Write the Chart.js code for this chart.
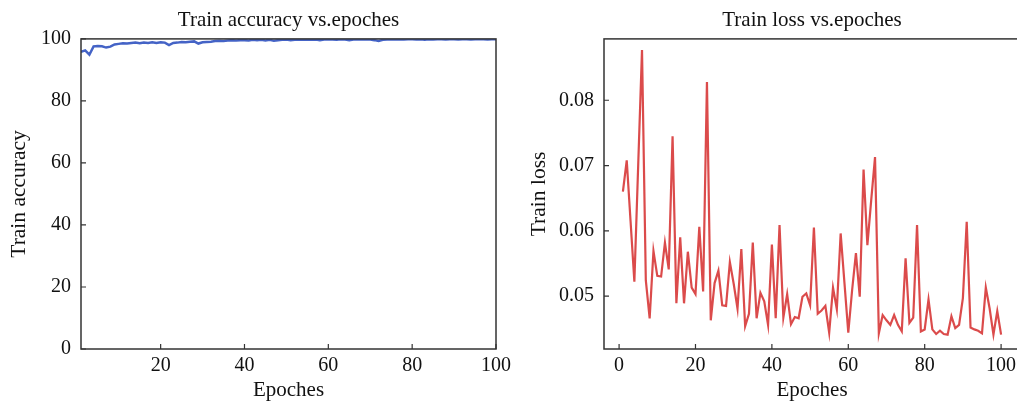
<!DOCTYPE html>
<html>
  <head>
    <meta charset="UTF-8" />
    <script src="https://cdn.jsdelivr.net/npm/chart.js"></script>
    <style>
      html, body { margin: 0; padding: 0; background: #fff; overflow: hidden; }
      body { width: 1017px; height: 401px; position: relative; }
      canvas { position: absolute; top: 0; }
      #accChart { left: 0; }
      #lossChart { left: 520px; }
    </style>
  </head>
  <body>
    <canvas id="accChart" width="520" height="420"></canvas>
    <canvas id="lossChart" width="540" height="420"></canvas>
    <script>
      // 데이터
      const epochs = Array.from({ length: 100 }, (_, i) => i + 1);

      const trainAccuracy = [
        95.8, 96.3, 94.9, 97.6, 97.7, 97.6, 97.2, 97.5, 98.2, 98.4,
        98.6, 98.5, 98.7, 98.8, 98.6, 98.8, 98.7, 98.9, 98.7, 98.9,
        98.8, 98.0, 98.7, 98.8, 99.0, 98.9, 99.1, 99.2, 98.5, 98.9,
        99.0, 99.1, 99.3, 99.4, 99.3, 99.5, 99.6, 99.5, 99.6, 99.6,
        99.5, 99.7, 99.6, 99.7, 99.5, 99.7, 99.4, 99.6, 99.7, 99.8,
        99.6, 99.7, 99.8, 99.7, 99.8, 99.7, 99.8, 99.6, 99.8, 99.9,
        99.8, 99.7, 99.9, 99.8, 99.6, 99.8, 99.9, 99.8, 99.9, 99.8,
        99.6, 99.3, 99.7, 99.8, 99.9, 99.8, 99.9, 99.8, 99.9, 99.9,
        99.8, 99.9, 99.7, 99.9, 99.8, 99.9, 99.9, 99.8, 99.9, 99.9,
        99.8, 99.9, 99.9, 99.8, 99.9, 99.9, 99.9, 99.8, 99.9, 99.9
      ];

      const trainLoss = [
        0.0660, 0.0708, 0.0615, 0.0522, 0.0700, 0.0877, 0.0524, 0.0466, 0.0569, 0.0531,
        0.0530, 0.0582, 0.0541, 0.0745, 0.0489, 0.0590, 0.0489, 0.0568, 0.0513, 0.0503,
        0.0606, 0.0507, 0.0828, 0.0463, 0.0520, 0.0539, 0.0486, 0.0485, 0.0552, 0.0519,
        0.0481, 0.0572, 0.0454, 0.0473, 0.0582, 0.0466, 0.0505, 0.0492, 0.0456, 0.0579,
        0.0466, 0.0609, 0.0467, 0.0503, 0.0457, 0.0468, 0.0466, 0.0499, 0.0504, 0.0486,
        0.0605, 0.0473, 0.0478, 0.0485, 0.0444, 0.0513, 0.0480, 0.0596, 0.0520, 0.0444,
        0.0509, 0.0566, 0.0499, 0.0694, 0.0578, 0.0647, 0.0713, 0.0443, 0.0471, 0.0463,
        0.0456, 0.0471, 0.0456, 0.0446, 0.0558, 0.0459, 0.0467, 0.0609, 0.0446, 0.0449,
        0.0495, 0.0449, 0.0442, 0.0447, 0.0442, 0.0441, 0.0469, 0.0451, 0.0456, 0.0497,
        0.0614, 0.0452, 0.0449, 0.0447, 0.0443, 0.0513, 0.0481, 0.0441, 0.0477, 0.0441
      ];

      // 눈금 값
      const accXTicks = [20, 40, 60, 80, 100];
      const accYTicks = [0, 20, 40, 60, 80, 100];
      const lossXTicks = [0, 20, 40, 60, 80, 100];
      const lossYTicks = [0.05, 0.06, 0.07, 0.08];

      const FONT = "'Liberation Serif', 'Times New Roman', serif";
      Chart.defaults.font.family = FONT;
      Chart.defaults.color = "#111";

      // 테두리 + 안쪽 눈금
      const frameAndTicks = {
        id: "frameAndTicks",
        afterDraw(chart) {
          const { ctx, chartArea: a, scales } = chart;
          ctx.save();
          ctx.strokeStyle = "#333";
          ctx.lineWidth = 1.5;
          ctx.strokeRect(a.left, a.top, a.right - a.left, a.bottom - a.top);
          ctx.lineWidth = 1.2;
          ctx.beginPath();
          scales.x.ticks.forEach((t) => {
            const px = scales.x.getPixelForValue(t.value);
            ctx.moveTo(px, a.bottom);
            ctx.lineTo(px, a.bottom - 5);
          });
          scales.y.ticks.forEach((t) => {
            const py = scales.y.getPixelForValue(t.value);
            ctx.moveTo(a.left, py);
            ctx.lineTo(a.left + 5, py);
          });
          ctx.stroke();
          ctx.restore();
        },
      };

      function setTicks(values) {
        return (scale) => {
          scale.ticks = values.map((v) => ({ value: v }));
        };
      }

      function makeChart(id, o) {
        new Chart(document.getElementById(id), {
          type: "line",
          data: {
            datasets: [
              {
                data: epochs.map((e, i) => ({ x: e, y: o.values[i] })),
                borderColor: o.color,
                borderWidth: o.lineWidth,
                pointRadius: 0,
                tension: 0,
                fill: false,
              },
            ],
          },
          options: {
            responsive: false,
            animation: false,
            layout: { padding: { left: 0, right: o.padRight, top: 0, bottom: 0 } },
            plugins: {
              legend: { display: false },
              tooltip: { enabled: false },
              title: {
                display: true,
                text: o.title,
                fullSize: false,
                color: "#111",
                font: { size: 21, weight: "normal", family: FONT },
                padding: { top: 7.5, bottom: 6.2 },
              },
            },
            scales: {
              x: {
                type: "linear",
                min: o.xMin,
                max: o.xMax,
                afterBuildTicks: setTicks(o.xTicks),
                afterFit: (s) => { s.height = 71; },
                grid: { display: false, drawTicks: false },
                border: { display: false },
                ticks: { padding: 4.5, font: { size: 20 }, color: "#111" },
                title: {
                  display: true,
                  text: "Epoches",
                  color: "#111",
                  font: { size: 21 },
                  padding: { top: 0, bottom: 17 },
                },
              },
              y: {
                type: "linear",
                min: o.yMin,
                max: o.yMax,
                afterBuildTicks: setTicks(o.yTicks),
                afterFit: (s) => { s.width = o.yWidth; },
                grid: { display: false, drawTicks: false },
                border: { display: false },
                ticks: {
                  padding: 10,
                  font: { size: 20 },
                  color: "#111",
                  callback: o.yFormat,
                },
                title: {
                  display: true,
                  text: o.yTitle,
                  color: "#111",
                  font: { size: 21.5 },
                  padding: { top: 6.5, bottom: 0 },
                },
              },
            },
          },
          plugins: [frameAndTicks],
        });
      }

      makeChart("accChart", {
        values: trainAccuracy,
        color: "#4463c6",
        lineWidth: 2.5,
        title: "Train accuracy vs.epoches",
        yTitle: "Train accuracy",
        xMin: 1,
        xMax: 100,
        yMin: 0,
        yMax: 100,
        xTicks: accXTicks,
        yTicks: accYTicks,
        yWidth: 81,
        padRight: 24,
        yFormat: (v) => v,
      });

      makeChart("lossChart", {
        values: trainLoss,
        color: "rgba(214, 50, 50, 0.88)",
        lineWidth: 2.2,
        title: "Train loss vs.epoches",
        yTitle: "Train loss",
        xMin: -3.95,
        xMax: 104.95,
        yMin: 0.0419,
        yMax: 0.0894,
        xTicks: lossXTicks,
        yTicks: lossYTicks,
        yWidth: 84,
        padRight: 40,
        yFormat: (v) => v.toFixed(2),
      });
    </script>
  </body>
</html>
